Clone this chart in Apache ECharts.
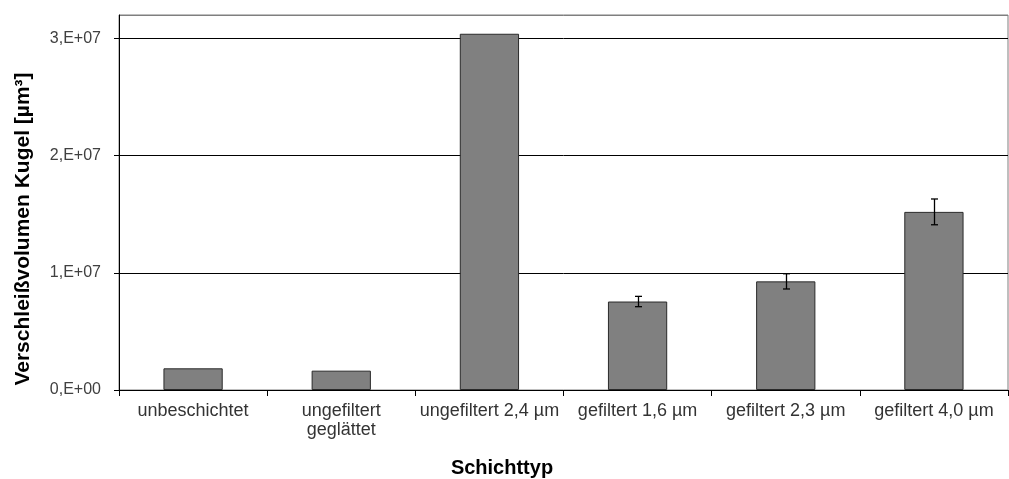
<!DOCTYPE html>
<html>
<head>
<meta charset="utf-8">
<script src="https://cdn.jsdelivr.net/npm/echarts@6/dist/echarts.min.js"></script>
<style>
  html, body { margin: 0; padding: 0; background: #fff; }
  #chart { width: 1009px; height: 479px; }
</style>
</head>
<body>
<div id="chart"></div>
<script>
// Schichttypen (x categories)
const categories = [
  'unbeschichtet',
  'ungefiltert\ngeglättet',
  'ungefiltert 2,4 µm',
  'gefiltert 1,6 µm',
  'gefiltert 2,3 µm',
  'gefiltert 4,0 µm'
];
// Verschleißvolumen Kugel in µm³
const volumes = [1.85e6, 1.65e6, 3.04e7, 7.55e6, 9.27e6, 1.52e7];
// Standardabweichung (0 = keine Fehlerbalken)
const deviations = [0, 0, 0, 4.4e5, 6.5e5, 1.1e6];
// Achsenbereich
const yMin = 0, yMax = 3.2e7, yStep = 1e7;

const font = 'Arial, "Liberation Sans", sans-serif';

function sciLabel(v) {
  if (v === 0) return '0,E+00';
  return (v / 1e7) + ',E+07';
}

const errorData = volumes.map((v, i) => [i, v - deviations[i], v + deviations[i]]);

const chart = echarts.init(document.getElementById('chart'), null, { renderer: 'canvas' });
chart.setOption({
  animation: false,
  backgroundColor: '#ffffff',
  grid: {
    left: 119, right: 1, top: 15, bottom: 89,
    show: true, borderColor: '#7f7f7f', borderWidth: 1, backgroundColor: 'transparent'
  },
  xAxis: {
    type: 'category',
    data: categories,
    boundaryGap: true,
    axisLine: { lineStyle: { color: '#000', width: 1 } },
    axisTick: { show: true, length: 6, lineStyle: { color: '#000' } },
    axisLabel: {
      interval: 0, margin: 12, fontSize: 18, lineHeight: 19,
      color: '#333', fontFamily: font
    },
    splitLine: { show: false }
  },
  yAxis: {
    type: 'value',
    min: yMin, max: yMax, interval: yStep,
    axisLine: { show: true, lineStyle: { color: '#000', width: 1 } },
    axisTick: { show: true, length: 5, lineStyle: { color: '#000' } },
    axisLabel: {
      showMaxLabel: false, margin: 18, fontSize: 16, color: '#404040',
      fontFamily: font, formatter: sciLabel
    },
    splitLine: {
      show: true,
      lineStyle: { color: ['#000', '#000', '#000', '#000', '#7f7f7f'], width: 1 }
    }
  },
  series: [
    {
      type: 'bar',
      data: volumes,
      barWidth: '40%',
      itemStyle: { color: '#808080', borderColor: '#2a2a2a', borderWidth: 1 },
      z: 2
    },
    {
      type: 'custom',
      data: errorData,
      z: 3,
      renderItem: function (params, api) {
        const i = api.value(0);
        const lo = api.value(1), hi = api.value(2);
        if (hi - lo <= 0) return null;
        const pLo = api.coord([i, lo]);
        const pHi = api.coord([i, hi]);
        const x = Math.round(pLo[0]) + 0.5;
        const cap = 3.5;
        const style = { stroke: '#000', lineWidth: 1.3 };
        return {
          type: 'group',
          children: [
            { type: 'line', shape: { x1: x, y1: pHi[1], x2: x, y2: pLo[1] }, style },
            { type: 'line', shape: { x1: x - cap, y1: pHi[1], x2: x + cap, y2: pHi[1] }, style },
            { type: 'line', shape: { x1: x - cap, y1: pLo[1], x2: x + cap, y2: pLo[1] }, style }
          ]
        };
      }
    }
  ],
  graphic: [
    {
      type: 'text',
      x: 23, y: 229,
      rotation: Math.PI / 2,
      style: {
        text: 'Verschleißvolumen Kugel [µm³]',
        fontSize: 21, fontWeight: 'bold', fontFamily: font,
        fill: '#000', align: 'center', verticalAlign: 'middle'
      }
    },
    {
      type: 'text',
      x: 502, y: 468,
      style: {
        text: 'Schichttyp',
        fontSize: 20, fontWeight: 'bold', fontFamily: font,
        fill: '#000', align: 'center', verticalAlign: 'middle'
      }
    }
  ]
});
</script>
</body>
</html>
